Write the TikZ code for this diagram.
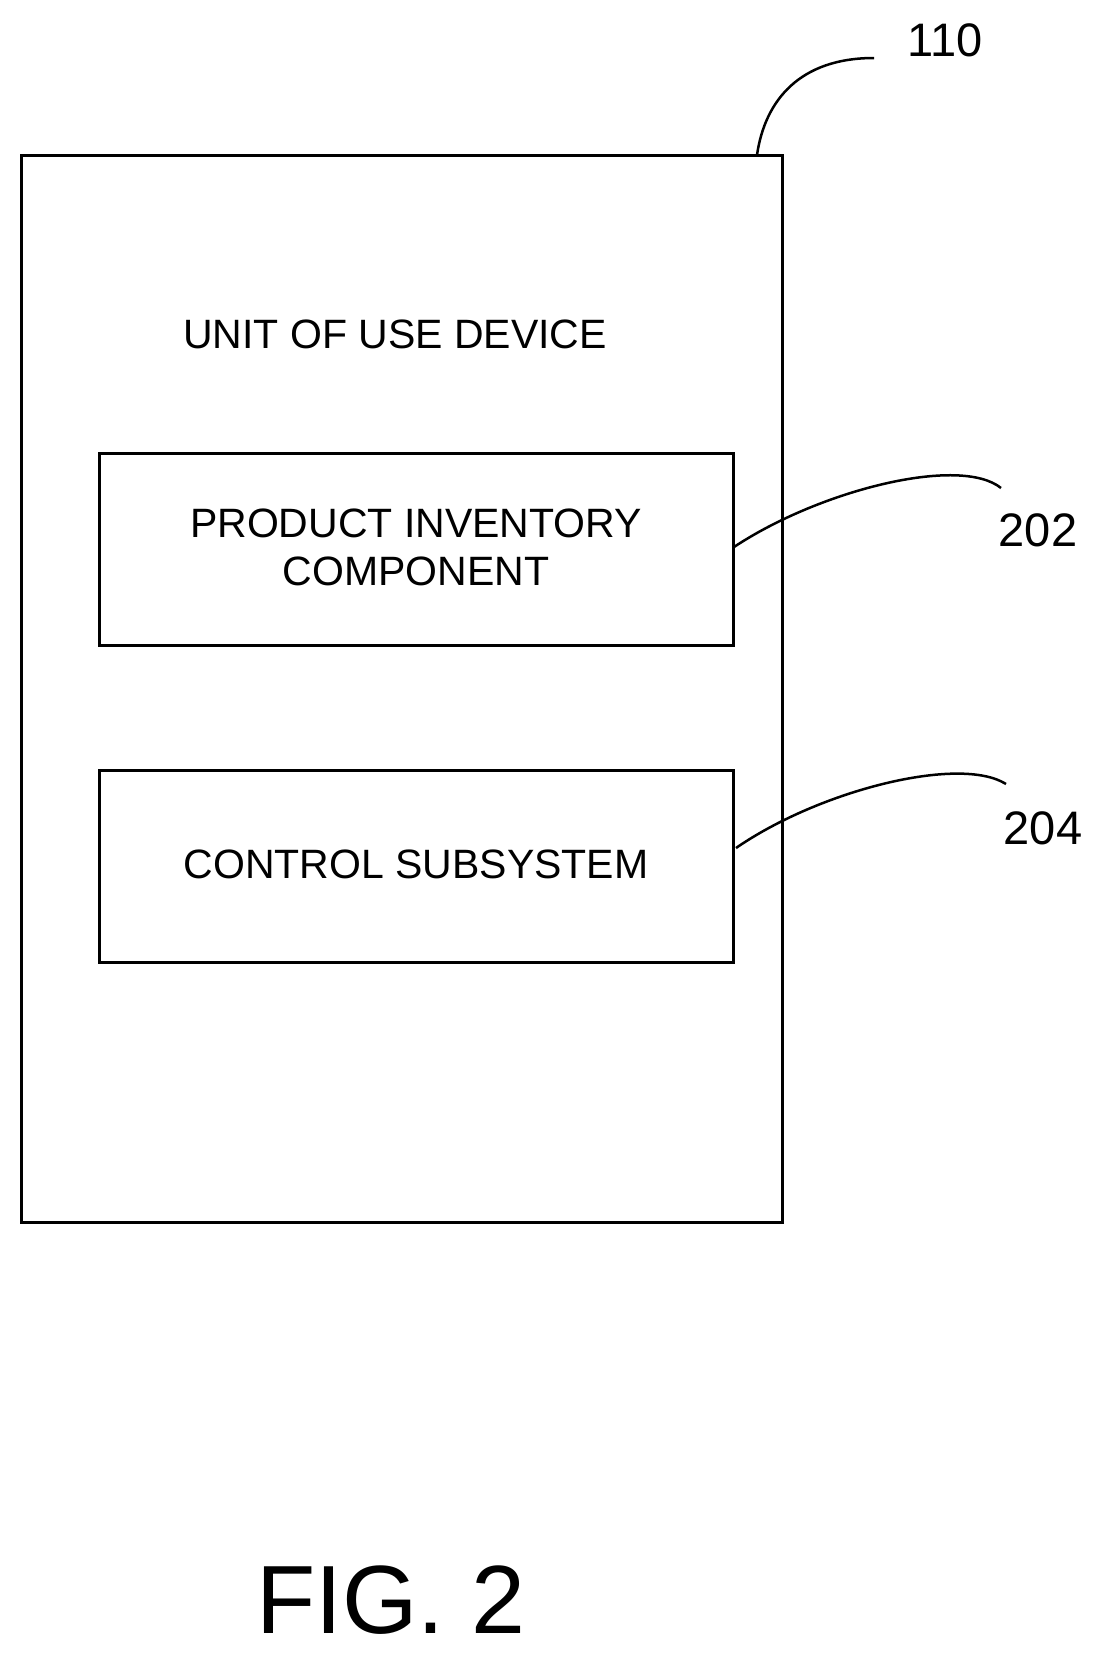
\documentclass[tikz,border=0pt]{standalone}
\usepackage{fontspec}
\setmainfont{Liberation Sans}
\begin{document}
\begin{tikzpicture}[x=1pt,y=-1pt,
    box/.style={draw,line width=3pt},
    lead/.style={line width=2.5pt},
    txt/.style={font=\fontsize{41}{48}\selectfont,align=center},
    ref/.style={font=\fontsize{47}{52}\selectfont}]
  \useasboundingbox (0,0) rectangle (1106,1658);
  % Outer device
  \draw[box] (21,155) rectangle (782,1222);
  \node[txt] (title) at (395,334) {UNIT OF USE DEVICE};
  % Components
  \draw[box] (99,453) rectangle (733,645);
  \node[txt] (inv) at (416,547) {PRODUCT INVENTORY\\COMPONENT};
  \draw[box] (99,770) rectangle (733,962);
  \node[txt] (ctrl) at (416,864) {CONTROL SUBSYSTEM};
  % Reference numerals
  \node[ref] (r110) at (945,40) {110};
  \node[ref] (r202) at (1038,530) {202};
  \node[ref] (r204) at (1043,828) {204};
  \coordinate (e110) at (757,155);
  \coordinate (s110) at (874,58);
  \coordinate (e202) at (734,547);
  \coordinate (s202) at (1001,488);
  \coordinate (e204) at (736,848);
  \coordinate (s204) at (1006,784);
  \draw[lead] (e110) .. controls (765,100) and (800,58) .. (s110);
  \draw[lead] (e202) .. controls (820,490) and (960,455) .. (s202);
  \draw[lead] (e204) .. controls (820,790) and (960,755) .. (s204);
  \node[font=\fontsize{97}{100}\selectfont] (fig) at (391,1600) {FIG. 2};
\end{tikzpicture}
\end{document}
